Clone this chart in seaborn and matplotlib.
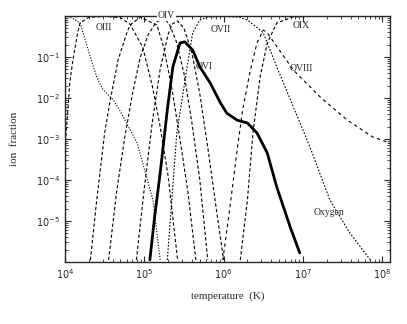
import numpy as np
import pandas as pd
import matplotlib
matplotlib.use("Agg")
import matplotlib.pyplot as plt
import seaborn as sns

# ─────────────────────────────────────────
# DATA  (log10 T [K], log10 ion fraction)
# ─────────────────────────────────────────

o2_logT = [4.0, 4.09, 4.19, 4.32, 4.40, 4.48, 4.61, 4.69, 4.91, 5.11, 5.20]
o2_logf = [0.0, -0.05, -0.17, -1.0, -1.49, -1.8, -2.05, -2.3, -3.1, -4.5, -5.95]

o3_logT = [4.0, 4.03, 4.06, 4.10, 4.16, 4.19, 4.3, 4.5, 4.7, 4.82, 4.98, 5.1, 5.2, 5.3, 5.42]
o3_logf = [-3.2, -2.46, -1.63, -1.07, -0.41, -0.17, -0.03, -0.01, -0.04, -0.2, -0.76, -1.7, -2.7, -3.9, -5.95]

o4_logT = [4.32, 4.40, 4.5, 4.57, 4.67, 4.78, 4.82, 4.95, 5.16, 5.25, 5.35, 5.45, 5.55, 5.65]
o4_logf = [-5.95, -4.49, -2.85, -2.05, -1.07, -0.41, -0.22, -0.03, -0.22, -0.8, -1.8, -3.0, -4.3, -5.95]

o5_logT = [4.55, 4.65, 4.75, 4.85, 4.95, 5.05, 5.15, 5.25, 5.32, 5.4, 5.5, 5.6, 5.7, 5.8]
o5_logf = [-5.95, -4.3, -3.0, -1.9, -1.0, -0.45, -0.15, -0.05, -0.22, -0.6, -1.4, -2.6, -4.0, -5.95]

o6_logT = [4.9, 5.0, 5.1, 5.2, 5.3, 5.35, 5.42, 5.5, 5.6, 5.7, 5.8, 5.9, 6.0]
o6_logf = [-5.95, -4.2, -2.6, -1.3, -0.45, -0.2, -0.12, -0.3, -0.9, -1.9, -3.2, -4.6, -5.95]

o7_logT = [5.29, 5.41, 5.54, 5.61, 5.70, 5.8, 6.0, 6.2, 6.3, 6.46, 6.50, 6.67, 6.88, 7.09, 7.34, 7.59, 7.85]
o7_logf = [-5.95, -2.85, -1.24, -0.41, -0.1, -0.02, -0.01, -0.03, -0.1, -0.34, -0.41, -1.24, -2.22, -3.2, -4.49, -5.29, -5.95]

o8_logT = [5.99, 6.08, 6.17, 6.24, 6.33, 6.42, 6.50, 6.55, 6.88, 7.22, 7.56, 7.88, 8.10]
o8_logf = [-5.95, -4.66, -3.27, -2.29, -1.39, -0.66, -0.34, -0.41, -1.32, -1.98, -2.54, -2.95, -3.1]

o9_logT = [6.21, 6.30, 6.37, 6.46, 6.55, 6.67, 6.88, 7.5, 8.1]
o9_logf = [-5.95, -4.49, -2.85, -1.49, -0.66, -0.17, -0.02, 0.0, 0.0]

thick_logT = [5.07, 5.13, 5.20, 5.29, 5.36, 5.45, 5.51, 5.61, 5.70, 5.83, 5.96,
              6.04, 6.17, 6.30, 6.42, 6.55, 6.67, 6.84, 6.96]
thick_logf = [-5.95, -4.90, -3.83, -2.29, -1.24, -0.66, -0.63, -0.83, -1.24, -1.63, -2.12,
              -2.37, -2.54, -2.61, -2.85, -3.34, -4.17, -5.15, -5.78]

x_ticks = [1e4, 1e5, 1e6, 1e7, 1e8]
x_ticklabels = ["$10^4$", "$10^5$", "$10^6$", "$10^7$", "$10^8$"]
y_ticks = [1e-5, 1e-4, 1e-3, 1e-2, 1e-1]
y_ticklabels = ["$10^{-5}$", "$10^{-4}$", "$10^{-3}$", "$10^{-2}$", "$10^{-1}$"]

ion_labels = ["OIII", "OIV", "OVI", "OVII", "OIX", "OVIII", "Oxygen"]
label_T = [10**4.49, 10**5.28, 10**5.75, 10**5.96, 10**6.98, 10**6.98, 10**7.33]
label_f = [10**-0.27, 10**0.0, 10**-1.24, 10**-0.32, 10**-0.22, 10**-1.27, 10**-4.8]

# ─────────────────────────────────────────
# BUILD TABLE
# ─────────────────────────────────────────

series = {
    "OII": (o2_logT, o2_logf),
    "OIII": (o3_logT, o3_logf),
    "OIV": (o4_logT, o4_logf),
    "OV": (o5_logT, o5_logf),
    "OVIb": (o6_logT, o6_logf),
    "OVII": (o7_logT, o7_logf),
    "OVIII": (o8_logT, o8_logf),
    "OIX": (o9_logT, o9_logf),
}
frames = []
for name, (lt, lf) in series.items():
    frames.append(pd.DataFrame({"T": 10 ** np.array(lt), "frac": 10 ** np.array(lf), "ion": name}))
df = pd.concat(frames, ignore_index=True)
thick = pd.DataFrame({"T": 10 ** np.array(thick_logT), "frac": 10 ** np.array(thick_logf)})

dash_styles = {
    "OII": (1, 1.5),
    "OIII": (3, 2),
    "OIV": (3, 2),
    "OV": (3, 2),
    "OVIb": (3, 2),
    "OVII": (1.5, 1.5),
    "OVIII": (3, 3),
    "OIX": (3, 2),
}

# ─────────────────────────────────────────
# PLOT
# ─────────────────────────────────────────

sns.set_style("ticks")
plt.rcParams["font.family"] = ["Liberation Serif", "DejaVu Serif"]

fig = plt.figure(figsize=(4.07, 3.24), dpi=100)
ax = fig.add_axes([65 / 407, 62 / 324, 325 / 407, 246 / 324])
ax.set_xscale("log")
ax.set_yscale("log")

for name in series:
    sub = df[df["ion"] == name]
    sns.lineplot(data=sub, x="T", y="frac", ax=ax, color="black", lw=0.8,
                 sort=False, estimator=None, legend=False)
    ax.lines[-1].set_dashes(dash_styles[name])

sns.lineplot(data=thick, x="T", y="frac", ax=ax, color="black", lw=2.0,
             sort=False, estimator=None, legend=False)

for txt, tx, ty in zip(ion_labels, label_T, label_f):
    bbox = dict(facecolor="white", edgecolor="none", pad=0.5) if txt == "OIV" else None
    ax.text(tx, ty, txt, fontsize=7, ha="center", va="center", bbox=bbox)

ax.set_xlim(1e4, 10**8.098)
ax.set_ylim(1e-6, 1)
ax.set_xticks(x_ticks)
ax.set_xticklabels(x_ticklabels, fontsize=7)
ax.set_yticks(y_ticks)
ax.set_yticklabels(y_ticklabels, fontsize=7)
ax.tick_params(which="both", direction="in", top=True, right=True)
ax.tick_params(which="major", length=4, width=0.8)
ax.tick_params(which="minor", length=2, width=0.6)
for s in ax.spines.values():
    s.set_linewidth(1.0)

ax.set_xlabel("temperature  (K)", fontsize=8, labelpad=8)
ax.set_ylabel("ion  fraction", fontsize=8, labelpad=12)

fig.savefig("out.png", dpi=100)
